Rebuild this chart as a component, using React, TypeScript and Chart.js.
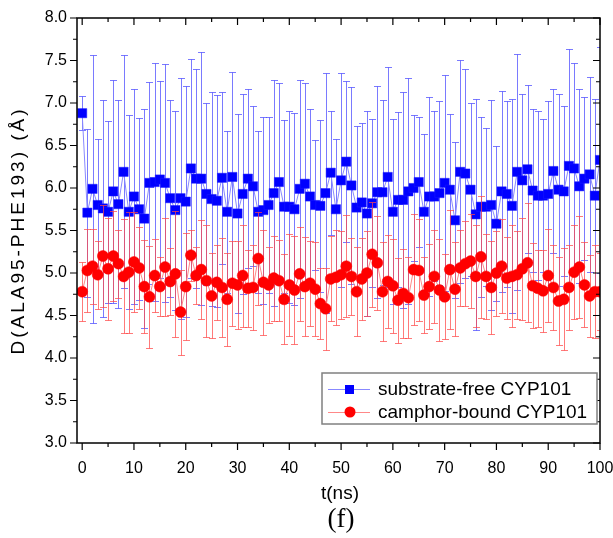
import React, { useEffect, useRef } from 'react';
import { Chart, registerables } from 'chart.js';

Chart.register(...registerables);

const timeNs = [
  0, 1, 2, 3, 4, 5, 6, 7, 8, 9, 10, 11, 12, 13, 14, 15, 16, 17, 18, 19,
  20, 21, 22, 23, 24, 25, 26, 27, 28, 29, 30, 31, 32, 33, 34, 35, 36, 37, 38, 39,
  40, 41, 42, 43, 44, 45, 46, 47, 48, 49, 50, 51, 52, 53, 54, 55, 56, 57, 58, 59,
  60, 61, 62, 63, 64, 65, 66, 67, 68, 69, 70, 71, 72, 73, 74, 75, 76, 77, 78, 79,
  80, 81, 82, 83, 84, 85, 86, 87, 88, 89, 90, 91, 92, 93, 94, 95, 96, 97, 98, 99, 100,
];

const freeMean = [
  6.88, 5.71, 5.99, 5.80, 5.76, 5.72, 5.96, 5.81, 6.19, 5.72, 5.90, 5.75, 5.64, 6.06, 6.07, 6.10, 6.06, 5.88, 5.74, 5.88,
  5.84, 6.23, 6.11, 6.11, 5.93, 5.87, 5.85, 6.12, 5.72, 6.13, 5.70, 5.93, 6.11, 6.02, 5.72, 5.74, 5.80, 5.94, 6.07, 5.78,
  5.78, 5.75, 5.99, 6.05, 5.90, 5.80, 5.79, 5.94, 6.18, 5.75, 6.09, 6.31, 6.03, 5.77, 5.83, 5.70, 5.82, 5.95, 5.95, 6.13,
  5.72, 5.86, 5.86, 5.96, 6.00, 6.07, 5.72, 5.90, 5.90, 5.94, 6.06, 5.98, 5.62, 6.19, 6.17, 5.98, 5.69, 5.78, 5.78, 5.80,
  5.58, 5.96, 5.93, 5.79, 6.19, 6.09, 6.22, 5.97, 5.91, 5.91, 5.93, 6.20, 5.98, 5.96, 6.26, 6.23, 6.02, 6.11, 6.16, 5.91, 6.33,
];

const freeErr = [
  0.20, 0.99, 1.58, 0.78, 1.28, 1.07, 1.31, 1.22, 1.37, 1.14, 1.26, 1.07, 1.29, 1.19, 1.40, 1.16, 1.40, 1.16, 1.17, 1.42,
  1.36, 1.29, 1.29, 1.49, 1.07, 1.26, 1.25, 1.01, 0.95, 1.23, 1.17, 1.18, 1.05, 0.94, 0.95, 1.10, 1.03, 1.33, 1.16, 1.02,
  1.13, 1.13, 1.28, 1.18, 1.03, 0.77, 1.01, 1.41, 0.73, 0.83, 1.26, 0.95, 1.16, 0.96, 0.94, 1.21, 0.99, 1.25, 1.09, 1.29,
  1.09, 1.03, 1.27, 1.33, 0.86, 0.76, 0.92, 1.17, 1.00, 1.08, 1.27, 0.89, 0.92, 1.31, 1.23, 1.02, 1.36, 1.06, 0.93, 1.24,
  0.91, 1.18, 1.09, 1.26, 1.39, 1.02, 0.99, 0.96, 0.99, 0.90, 1.09, 0.96, 1.13, 1.00, 1.38, 1.24, 1.14, 0.96, 1.15, 1.14, 1.33,
];

const boundMean = [
  4.78, 5.03, 5.08, 4.98, 5.20, 5.05, 5.20, 5.11, 4.96, 5.01, 5.13, 5.06, 4.84, 4.72, 4.97, 4.84, 5.07, 4.90, 4.99, 4.54,
  4.84, 5.21, 4.97, 5.04, 4.91, 4.73, 4.89, 4.83, 4.69, 4.88, 4.86, 4.97, 4.82, 4.83, 5.17, 4.89, 4.86, 4.94, 4.91, 4.69,
  4.86, 4.80, 4.99, 4.84, 4.88, 4.81, 4.64, 4.58, 4.93, 4.95, 4.98, 5.08, 4.96, 4.78, 4.93, 5.00, 5.22, 5.12, 4.78, 4.90,
  4.85, 4.68, 4.76, 4.71, 5.04, 5.03, 4.74, 4.84, 4.96, 4.80, 4.72, 5.04, 4.81, 5.06, 5.11, 5.14, 4.96, 5.19, 4.96, 4.83,
  5.00, 5.08, 4.94, 4.96, 4.98, 5.05, 5.12, 4.85, 4.82, 4.79, 4.97, 4.83, 4.67, 4.69, 4.83, 5.01, 5.07, 4.86, 4.73, 4.78, 4.78,
];

const boundErr = [
  0.35, 0.49, 0.44, 0.40, 0.60, 0.60, 0.53, 0.40, 0.67, 0.71, 0.59, 0.48, 0.55, 0.60, 0.43, 0.35, 0.58, 0.39, 0.74, 0.50,
  0.63, 0.30, 0.34, 0.58, 0.66, 0.50, 0.44, 0.58, 0.55, 0.50, 0.52, 0.60, 0.45, 0.50, 0.55, 0.62, 0.45, 0.50, 0.48, 0.53,
  0.60, 0.64, 0.55, 0.58, 0.50, 0.55, 0.42, 0.48, 0.50, 0.56, 0.52, 0.60, 0.45, 0.52, 0.48, 0.50, 0.62, 0.55, 0.58, 0.55,
  0.55, 0.50, 0.52, 0.48, 0.65, 0.60, 0.45, 0.50, 0.55, 0.60, 0.50, 0.70, 0.55, 0.45, 0.50, 0.55, 0.60, 0.72, 0.50, 0.55,
  0.50, 0.55, 0.48, 0.60, 0.52, 0.60, 0.70, 0.50, 0.45, 0.48, 0.55, 0.50, 0.52, 0.60, 0.50, 0.55, 0.60, 0.50, 0.48, 0.55, 0.45,
];

const seriesLabels = ['substrate-free CYP101', 'camphor-bound CYP101'];
const xMajorTicks = [0, 10, 20, 30, 40, 50, 60, 70, 80, 90, 100];
const xMinorTicks = [5, 15, 25, 35, 45, 55, 65, 75, 85, 95];
const yMajorTicks = [3.0, 3.5, 4.0, 4.5, 5.0, 5.5, 6.0, 6.5, 7.0, 7.5, 8.0];
const yMinorTicks = [3.25, 3.75, 4.25, 4.75, 5.25, 5.75, 6.25, 6.75, 7.25, 7.75];
const xTitle = 't(ns)';
const yTitle = 'D(ALA95-PHE193) (Å)';
const panelLabel = '(f)';

const SANS = '"Liberation Sans", Arial, sans-serif';
const SERIF = '"Liberation Serif", "Times New Roman", serif';

const BLUE = '#0000ff';
const RED = '#ff0000';
const BLUE_LINE = '#8888ff';
const RED_LINE = '#ff8888';
const BLUE_ERR = 'rgba(70,70,255,0.72)';
const RED_ERR = 'rgba(255,70,70,0.72)';

const errorBarPlugin = {
  id: 'errorBars',
  beforeDatasetDraw(chart: any, args: any) {
    const { ctx, chartArea } = chart;
    const xs = chart.scales.x;
    const ys = chart.scales.y;
    const mean = args.index === 0 ? freeMean : boundMean;
    const err = args.index === 0 ? freeErr : boundErr;
    ctx.save();
    ctx.beginPath();
    ctx.rect(chartArea.left, chartArea.top, chartArea.right - chartArea.left, chartArea.bottom - chartArea.top);
    ctx.clip();
    ctx.strokeStyle = args.index === 0 ? BLUE_ERR : RED_ERR;
    ctx.lineWidth = 1;
    ctx.beginPath();
    timeNs.forEach((t, i) => {
      const px = Math.round(xs.getPixelForValue(t)) + 0.5;
      const yTop = Math.round(ys.getPixelForValue(mean[i] + err[i])) + 0.5;
      const yBot = Math.round(ys.getPixelForValue(mean[i] - err[i])) + 0.5;
      ctx.moveTo(px, yTop);
      ctx.lineTo(px, yBot);
      ctx.moveTo(px - 3.5, yTop);
      ctx.lineTo(px + 3.5, yTop);
      ctx.moveTo(px - 3.5, yBot);
      ctx.lineTo(px + 3.5, yBot);
    });
    ctx.stroke();
    ctx.restore();
  },
};

const framePlugin = {
  id: 'frameDecor',
  afterDraw(chart: any) {
    const { ctx, chartArea } = chart;
    const xs = chart.scales.x;
    const ys = chart.scales.y;
    const { left, right, top, bottom } = chartArea;
    ctx.save();
    ctx.strokeStyle = '#000';
    ctx.lineWidth = 1.5;
    ctx.strokeRect(left, top, right - left, bottom - top);
    ctx.lineWidth = 1.2;
    ctx.beginPath();
    const tickX = (v: number, len: number) => {
      const px = xs.getPixelForValue(v);
      ctx.moveTo(px, bottom);
      ctx.lineTo(px, bottom + len);
      ctx.moveTo(px, top);
      ctx.lineTo(px, top + len);
    };
    const tickY = (v: number, len: number) => {
      const py = ys.getPixelForValue(v);
      ctx.moveTo(left, py);
      ctx.lineTo(left - len, py);
      ctx.moveTo(right, py);
      ctx.lineTo(right - len, py);
    };
    xMajorTicks.forEach((v) => tickX(v, 7));
    xMinorTicks.forEach((v) => tickX(v, 4));
    yMajorTicks.forEach((v) => tickY(v, 7));
    yMinorTicks.forEach((v) => tickY(v, 4));
    ctx.stroke();

    // legend box
    const bx = 322, by = 373, bw = 275, bh = 51;
    ctx.fillStyle = '#fff';
    ctx.fillRect(bx, by, bw, bh);
    ctx.strokeStyle = '#808080';
    ctx.lineWidth = 1.5;
    ctx.strokeRect(bx, by, bw, bh);
    const rows = [
      { y: 389, line: BLUE_LINE, fill: BLUE, shape: 'rect' },
      { y: 412, line: RED_LINE, fill: RED, shape: 'circle' },
    ];
    rows.forEach((r, i) => {
      ctx.strokeStyle = r.line;
      ctx.lineWidth = 1;
      ctx.beginPath();
      ctx.moveTo(328, r.y + 0.5);
      ctx.lineTo(370, r.y + 0.5);
      ctx.stroke();
      ctx.fillStyle = r.fill;
      if (r.shape === 'rect') {
        ctx.fillRect(345, r.y - 4, 9, 9);
      } else {
        ctx.beginPath();
        ctx.arc(350, r.y, 5.5, 0, Math.PI * 2);
        ctx.fill();
      }
      ctx.fillStyle = '#000';
      ctx.font = `19px ${SANS}`;
      ctx.textAlign = 'left';
      ctx.textBaseline = 'middle';
      ctx.fillText(seriesLabels[i], 378, r.y + 1);
    });

    // axis titles
    ctx.fillStyle = '#000';
    ctx.font = `19px ${SANS}`;
    ctx.textAlign = 'center';
    ctx.textBaseline = 'middle';
    ctx.fillText(xTitle, 340, 494);

    ctx.save();
    ctx.translate(19, (top + bottom) / 2);
    ctx.rotate(-Math.PI / 2);
    try {
      (ctx as any).letterSpacing = '3px';
    } catch (e) {}
    ctx.fillText(yTitle, 0, 0);
    ctx.restore();

    ctx.font = `27px ${SERIF}`;
    ctx.textAlign = 'center';
    ctx.textBaseline = 'middle';
    ctx.fillStyle = '#000';
    ctx.fillText(panelLabel, 341, 520);
    ctx.restore();
  },
};

export default function App() {
  const canvasRef = useRef<HTMLCanvasElement | null>(null);

  useEffect(() => {
    const canvas = canvasRef.current;
    if (!canvas) return;
    const chart = new Chart(canvas, {
      type: 'line',
      data: {
        datasets: [
          {
            label: seriesLabels[0],
            data: timeNs.map((t, i) => ({ x: t, y: freeMean[i] })),
            borderColor: BLUE_LINE,
            borderWidth: 1,
            pointStyle: 'rect',
            pointRadius: 6.5,
            pointBackgroundColor: BLUE,
            pointBorderColor: '#1a1aff',
            pointBorderWidth: 0.5,
            tension: 0,
            order: 2,
          },
          {
            label: seriesLabels[1],
            data: timeNs.map((t, i) => ({ x: t, y: boundMean[i] })),
            borderColor: RED_LINE,
            borderWidth: 1,
            pointStyle: 'circle',
            pointRadius: 5.5,
            pointBackgroundColor: RED,
            pointBorderColor: RED,
            pointBorderWidth: 0.5,
            tension: 0,
            order: 1,
          },
        ],
      },
      options: {
        responsive: false,
        animation: false,
        layout: { padding: { top: 18, right: 13, left: 0, bottom: 0 } },
        plugins: {
          legend: { display: false },
          tooltip: { enabled: false },
        },
        scales: {
          x: {
            type: 'linear',
            min: -1,
            max: 100,
            afterFit: (s: any) => {
              s.height = 95;
              s.paddingLeft = 0;
              s.paddingRight = 0;
              s.paddingTop = 0;
              s.paddingBottom = 0;
            },
            afterBuildTicks: (s: any) => {
              s.ticks = xMajorTicks.map((v) => ({ value: v }));
            },
            grid: { display: false, drawTicks: false },
            border: { display: false },
            ticks: {
              autoSkip: false,
              maxRotation: 0,
              padding: 16,
              color: '#000',
              font: { size: 16, family: SANS },
              callback: (v: any) => String(v),
            },
            title: { display: false },
          },
          y: {
            type: 'linear',
            min: 3,
            max: 8,
            afterFit: (s: any) => {
              s.width = 77;
              s.paddingLeft = 0;
              s.paddingRight = 0;
              s.paddingTop = 0;
              s.paddingBottom = 0;
            },
            afterBuildTicks: (s: any) => {
              s.ticks = yMajorTicks.map((v) => ({ value: v }));
            },
            grid: { display: false, drawTicks: false },
            border: { display: false },
            ticks: {
              autoSkip: false,
              padding: 10,
              color: '#000',
              font: { size: 16, family: SANS },
              callback: (v: any) => Number(v).toFixed(1),
            },
            title: { display: false },
          },
        },
      },
      plugins: [errorBarPlugin, framePlugin],
    } as any);
    return () => chart.destroy();
  }, []);

  return (
    <div style={{ position: 'fixed', left: 0, top: 0, width: 613, height: 538, background: '#fff' }}>
      <canvas ref={canvasRef} width={613} height={538} />
    </div>
  );
}
